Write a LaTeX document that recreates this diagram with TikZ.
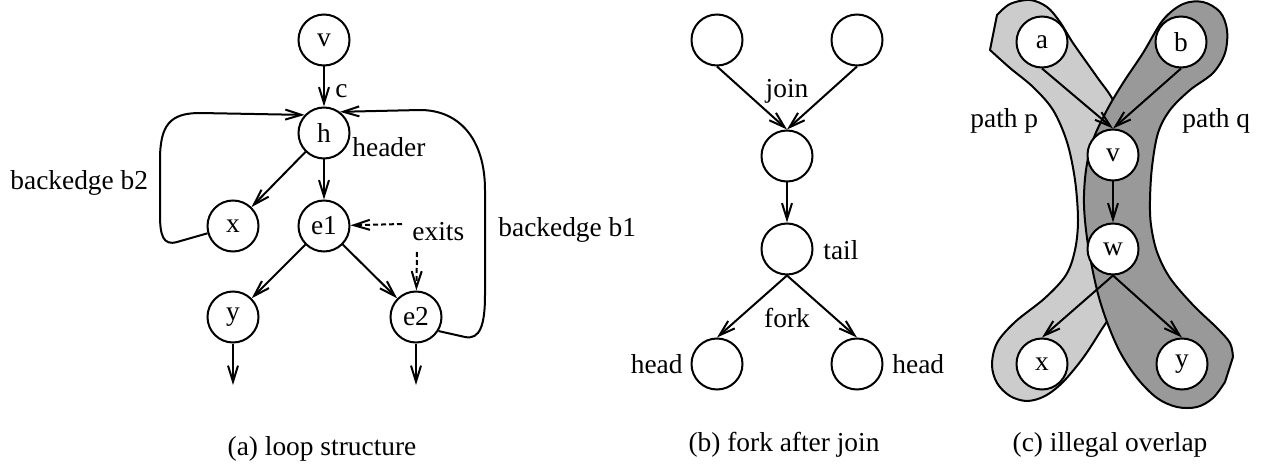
\documentclass[tikz,border=0pt]{standalone}
\usepackage{fontspec}
\setmainfont{Liberation Serif}
\usetikzlibrary{arrows.meta}
\begin{document}
\begin{tikzpicture}[x=0.5pt,y=-0.5pt,
  every node/.style={font=\fontsize{13.7}{16}\selectfont},
  vtx/.style={circle,draw,line width=1pt,minimum size=25.5pt,inner sep=0pt,fill=white},
  arr/.style={line width=1pt,-{Straight Barb[length=8pt,width=5pt]}},
  dotarr/.style={arr,dash pattern=on 2.5pt off 1.5pt},
  lbl/.style={anchor=base west,inner sep=0pt},
  lblr/.style={anchor=base east,inner sep=0pt},
  captxt/.style={anchor=base,inner sep=0pt},
  band/.style={draw,line width=1pt,line join=round}
]
\useasboundingbox (0,0) rectangle (1265,465);

% ---------- (a) loop structure ----------
\node[vtx] (v)  at (324,40)  {v};
\node[vtx] (h)  at (324,133) {h};
\node[vtx] (x)  at (233,226) {x};
\node[vtx] (e1) at (324,226) {e1};
\node[vtx] (y)  at (233,317) {y};
\node[vtx] (e2) at (416,317) {e2};
\coordinate (yout)  at (233,385);
\coordinate (e2out) at (416,385);
\coordinate (ex1) at (402,224);
\coordinate (ex2) at (417,252);

\node[lbl] (lc)     at (335,98)  {c};
\node[lbl] (lhdr)   at (352,157) {header};
\node[lbl] (lb2)    at (10,190)  {backedge b2};
\node[lbl] (lb1)    at (498,236) {backedge b1};
\node[lbl] (lexits) at (412,241) {exits};

\draw[arr] (v) -- (h);
\draw[arr] (h) -- (x);
\draw[arr] (h) -- (e1);
\draw[arr] (e1) -- (y);
\draw[arr] (e1) -- (e2);
\draw[arr] (y) -- (yout);
\draw[arr] (e2) -- (e2out);
\draw[dotarr] (ex1) -- (e1);
\draw[dotarr] (ex2) -- (e2);

% back edges
\draw[arr] (x.196) -- (177,242) .. controls (163,246) and (160,235) .. (160,215)
  -- (160,160) .. controls (160,125) and (170,113) .. (200,113) -- (h.137);
\draw[arr] (e2.-32) -- (465,337) .. controls (480,340) and (485,325) .. (485,295)
  -- (485,190) .. controls (485,140) and (460,110) .. (420,110) -- (h.53);

\node[captxt] (capa) at (322,455) {(a) loop structure};

% ---------- (b) fork after join ----------
\node[vtx] (j1)  at (717,40)  {};
\node[vtx] (j2)  at (857,40)  {};
\node[vtx] (jn)  at (787,156) {};
\node[vtx] (tl)  at (787,249) {};
\node[vtx] (hd1) at (717,364) {};
\node[vtx] (hd2) at (857,364) {};

\draw[arr] (j1.south) -- (jn.north);
\draw[arr] (j2.south) -- (jn.north);
\draw[arr] (jn) -- (tl);
\draw[arr] (tl.south) -- (hd1.north);
\draw[arr] (tl.south) -- (hd2.north);

\node[captxt] (ljoin) at (787,98)  {join};
\node[lbl]    (ltail) at (823,259) {tail};
\node[captxt] (lfork) at (787,328) {fork};
\node[lblr]   (lh1)   at (683,373) {head};
\node[lbl]    (lh2)   at (892,373) {head};

\node[captxt] (capb) at (784,451) {(b) fork after join};

% ---------- (c) illegal overlap ----------
\begin{scope}
\clip (940,0) rectangle (1265,465);
% path p
\draw[band,fill=black!20] plot[smooth,tension=0.55] coordinates {
  (997,15) (1010,4) (1030,0) (1047,7) (1060,22) (1073,43) (1097,77) (1113,100)
  (1128,135) (1136,175) (1137,215) (1130,262) (1116,305) (1100,332) (1083,358)
  (1063,382) (1045,396) (1027,401) (1010,396) (997,383) (992,365) (997,343)
  (1015,322) (1045,298) (1066,275) (1075,250) (1078,220) (1075,180) (1067,142)
  (1053,110) (1033,87) (1010,68) (990,50)} -- cycle;
% path q
\draw[band,fill=black!40] plot[smooth,tension=0.55] coordinates {
  (1225,382) (1213,398) (1197,407) (1177,407) (1157,398) (1137,378) (1120,352)
  (1107,322) (1097,290) (1088,245) (1084,205) (1086,170) (1093,140) (1107,110)
  (1123,83) (1143,53) (1163,20) (1183,4) (1203,2) (1220,12) (1227,30) (1225,53)
  (1213,73) (1190,90) (1170,110) (1158,133) (1152,167) (1150,200) (1151,225)
  (1157,252) (1170,278) (1193,305) (1217,328) (1230,343) (1233,357)} -- cycle;
\end{scope}

\node[vtx] (ca) at (1042,42)  {a};
\node[vtx] (cb) at (1181,42)  {b};
\node[vtx] (cv) at (1113,155) {v};
\node[vtx] (cw) at (1113,249) {w};
\node[vtx] (cx) at (1042,364) {x};
\node[vtx] (cy) at (1182,364) {y};

\draw[arr] (ca.south) -- (cv.north);
\draw[arr] (cb.south) -- (cv.north);
\draw[arr] (cv) -- (cw);
\draw[arr] (cw.south) -- (cx.north);
\draw[arr] (cw.south) -- (cy.north);

\node[lbl] (lp) at (970,128)  {path p};
\node[lbl] (lq) at (1182,128) {path q};

\node[captxt] (capc) at (1110,451) {(c) illegal overlap};
\end{tikzpicture}
\end{document}
